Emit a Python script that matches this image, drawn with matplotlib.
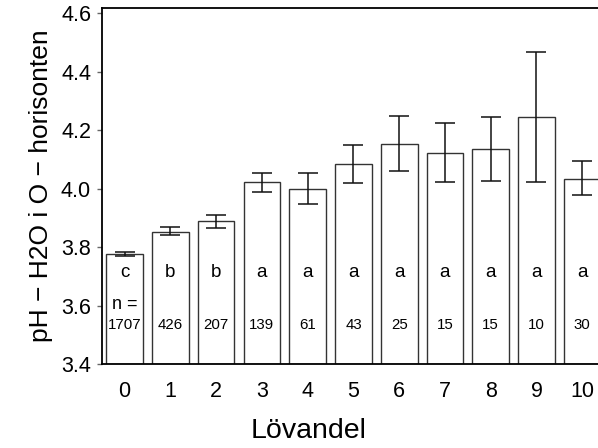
import matplotlib
matplotlib.use("Agg")
import matplotlib.pyplot as plt
import numpy as np

plt.rcParams['font.family'] = ['Liberation Sans', 'DejaVu Sans']

# Medelvärde per lövandelsklass med konfidensintervall
klasser = ['0', '1', '2', '3', '4', '5', '6', '7', '8', '9', '10']
ph_medel = [3.777, 3.853, 3.889, 4.021, 3.999, 4.084, 4.154, 4.123, 4.137, 4.246, 4.034]
ph_undre = [3.768, 3.840, 3.867, 3.989, 3.946, 4.019, 4.059, 4.021, 4.027, 4.023, 3.977]
ph_ovre = [3.784, 3.869, 3.909, 4.052, 4.053, 4.148, 4.247, 4.224, 4.246, 4.467, 4.093]
grupper = ['c', 'b', 'b', 'a', 'a', 'a', 'a', 'a', 'a', 'a', 'a']
antal = [1707, 426, 207, 139, 61, 43, 25, 15, 15, 10, 30]

x = np.arange(len(klasser))
medel = np.array(ph_medel)
fel = [medel - np.array(ph_undre), np.array(ph_ovre) - medel]

fig = plt.figure(figsize=(5.98, 4.48), dpi=100)
ax = fig.add_axes([0.170, 0.1875, 0.830, 0.794])

ax.bar(x, medel - 3.4, bottom=3.4, width=0.8, color='white',
       edgecolor='#333333', linewidth=1.0, zorder=2)
ax.errorbar(x, medel, yerr=fel, fmt='none', ecolor='#111111',
            elinewidth=1.1, capsize=7.2, capthick=1.1, zorder=3)

for xi, g, n in zip(x, grupper, antal):
    ax.text(xi, 3.712, g, ha='center', va='center', fontsize=13.5)
    ax.text(xi, 3.533, str(n), ha='center', va='center', fontsize=10.8)
ax.text(x[0], 3.602, 'n =', ha='center', va='center', fontsize=13)

ax.set_xlim(-0.503, 10.345)
ax.set_ylim(3.4, 4.617)
ax.set_yticks([3.4, 3.6, 3.8, 4.0, 4.2, 4.4, 4.6])
ax.set_yticklabels(['3.4', '3.6', '3.8', '4.0', '4.2', '4.4', '4.6'], fontsize=15.5)
ax.set_xticks(x)
ax.set_xticklabels(klasser, fontsize=15.5)
ax.tick_params(axis='x', length=0, pad=12)
ax.tick_params(axis='y', length=3.6, width=1.0, color='#666666', pad=4)

for s in ['left', 'top', 'bottom']:
    ax.spines[s].set_linewidth(1.3)
    ax.spines[s].set_color('black')
ax.spines['right'].set_visible(False)

fig.text(309 / 598, 1 - 431 / 448, 'Lövandel', ha='center', va='center', fontsize=20.5)
fig.text(41 / 598, 1 - 186 / 448, 'pH − H2O i O − horisonten', ha='center', va='center',
         rotation=90, fontsize=19)

fig.savefig('out.png', dpi=100)
